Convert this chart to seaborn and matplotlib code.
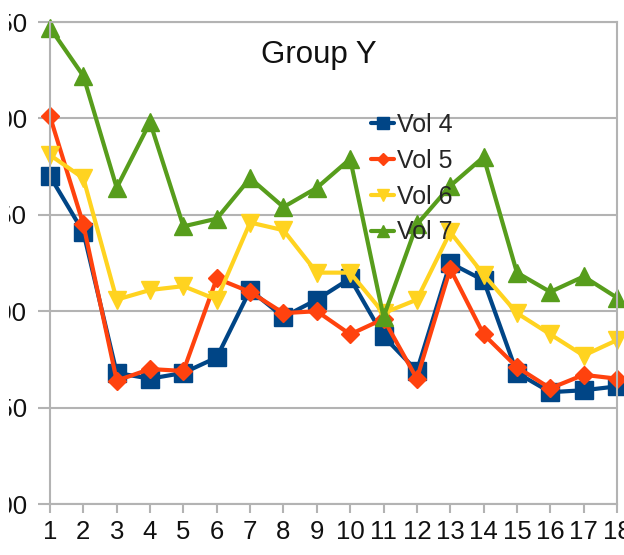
import matplotlib
matplotlib.use("Agg")
import matplotlib.pyplot as plt
from matplotlib.transforms import Bbox, TransformedBbox
import pandas as pd
import seaborn as sns

sns.set_style("white")
plt.rcParams['font.family'] = ['Liberation Sans', 'DejaVu Sans']

# values
points = list(range(1, 19))
vol4 = [270, 241, 168, 165, 168, 176, 211, 197, 206, 217, 187, 169, 225, 216, 168, 158, 159, 161]
vol5 = [301, 245, 164, 170, 169, 217, 210, 199, 200, 188, 196, 165, 222, 188, 171, 160, 167, 165]
vol6 = [281, 269, 206, 211, 213, 206, 246, 242, 220, 220, 199, 206, 241, 219, 199, 188, 177, 185]
vol7 = [347, 322, 264, 298, 244, 248, 269, 254, 264, 279, 197, 245, 265, 280, 220, 210, 218, 207]
series = ["Vol 4", "Vol 5", "Vol 6", "Vol 7"]
yticks = [100, 150, 200, 250, 300, 350]

colors = {"Vol 4": "#004586", "Vol 5": "#ff420e", "Vol 6": "#ffd320", "Vol 7": "#579d1c"}
markers = {"Vol 4": "s", "Vol 5": "D", "Vol 6": "v", "Vol 7": "^"}
msizes = {"Vol 4": 13.5, "Vol 5": 9, "Vol 6": 13.5, "Vol 7": 13.5}

df = pd.DataFrame({"x": points * 4,
                   "value": vol4 + vol5 + vol6 + vol7,
                   "series": sum([[s] * len(points) for s in series], [])})

fig = plt.figure(figsize=(6.24, 5.55), dpi=100)
ax = fig.add_axes([50 / 624, 51 / 555, 567 / 624, 482 / 555])

for s in series:
    sub = df[df.series == s]
    sns.lineplot(data=sub, x="x", y="value", ax=ax, color=colors[s], lw=3,
                 marker=markers[s], markersize=msizes[s], markeredgecolor=colors[s],
                 markeredgewidth=1, label=s, legend=False, clip_on=False)

grey = "#b3b3b3"
ax.set_xlim(1, 18)
ax.set_ylim(100, 350)
ax.set_xticks(points)
ax.set_yticks(yticks)
ax.set_xlabel("")
ax.set_ylabel("")
ax.grid(axis="y", color=grey, lw=1.5)
ax.grid(axis="x", visible=False)
for sp in ax.spines.values():
    sp.set_color(grey)
    sp.set_linewidth(1.5)
ax.tick_params(axis="x", length=6.5, width=1.5, color=grey, direction="out",
               labelsize=18.5, pad=5, bottom=True, labelcolor="#111111")
ax.tick_params(axis="y", length=8.5, width=1.5, color=grey, direction="out",
               labelsize=18.5, pad=8, left=True, labelcolor="#111111")

fig.text(319 / 624, 1 - 63 / 555, "Group Y", fontsize=22.5, ha="center", va="baseline",
         color="#111111")

handles, labels = ax.get_legend_handles_labels()
ax.legend(handles, labels, loc="upper left", bbox_to_anchor=(371 / 624, 1 - 113 / 555),
          bbox_transform=fig.transFigure, frameon=False, fontsize=18,
          handlelength=0.92, handletextpad=0.12, labelspacing=0.47, borderpad=0,
          borderaxespad=0, markerscale=0.65)

# the reference is cut off on the left, so clip the y labels the same way
fig.canvas.draw()
clip = TransformedBbox(Bbox.from_extents(9 / 624, 0, 1, 1), fig.transFigure)
for t in ax.yaxis.get_major_ticks():
    t.label1.set_clip_box(clip)
    t.label1.set_clip_on(True)

fig.savefig("out.png", dpi=100)
